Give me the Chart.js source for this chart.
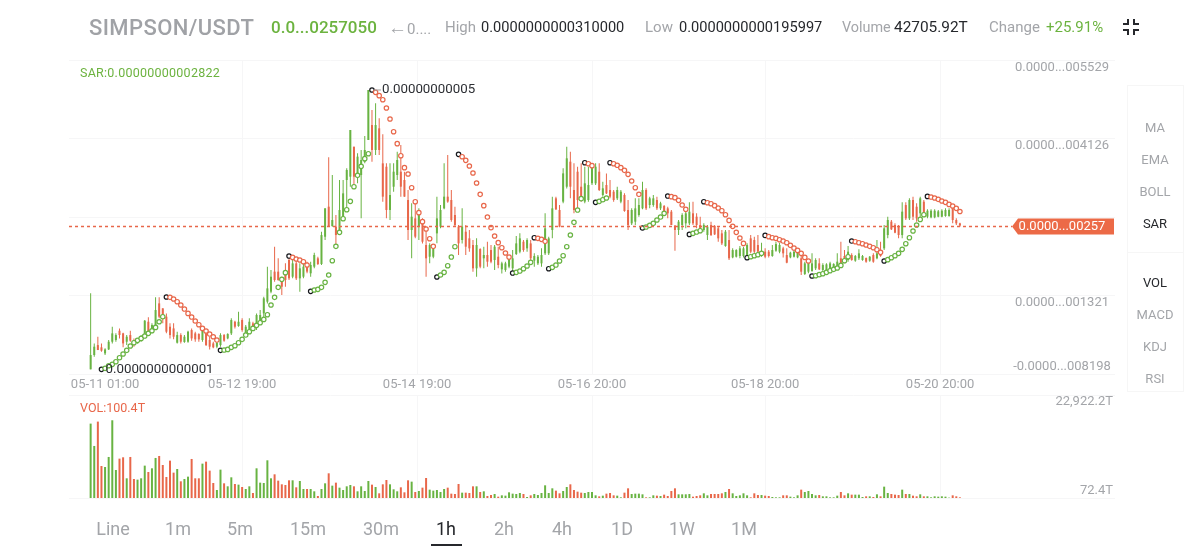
<!DOCTYPE html>
<html>
<head>
<meta charset="utf-8">
<title>SIMPSON/USDT</title>
<script src="https://cdn.jsdelivr.net/npm/chart.js@4"></script>
<style>
  html, body { margin: 0; padding: 0; background: #fff; }
  body { width: 1200px; height: 553px; position: relative; overflow: hidden; font-family: Roboto, sans-serif; }
  canvas { position: absolute; left: 0; }
  .t { position: absolute; white-space: nowrap; transform: translateY(-50%); color: #a3a5a9; font-size: 15px; }
  .dark { color: #26282c; }
  .green { color: #6cb33f; }
  .side { position: absolute; left: 1127px; width: 57px; border: 1px solid #f6f6f6; box-sizing: border-box; }
  .c { transform: translate(-50%, -50%); }
</style>
</head>
<body>
<canvas id="priceChart" width="1200" height="395" style="top:0"></canvas>
<canvas id="volChart" width="1200" height="112" style="top:390px"></canvas>

<div class="t" style="left:89px;top:27px;font-size:22px;letter-spacing:.4px;font-weight:500;color:#a0a2a6">SIMPSON/USDT</div>
<div class="t green" style="left:271px;top:27px;font-size:17px;font-weight:500">0.0...0257050</div>
<div class="t" style="left:388px;top:27px"><span style="font-size:19px">←</span>0....</div>
<div class="t" style="left:445px;top:27px">High</div>
<div class="t dark" style="left:481px;top:27px;font-size:14.6px">0.0000000000310000</div>
<div class="t" style="left:645px;top:27px">Low</div>
<div class="t dark" style="left:679px;top:27px;font-size:14.6px">0.0000000000195997</div>
<div class="t" style="left:842px;top:27px;font-size:14.4px">Volume</div>
<div class="t dark" style="left:894px;top:27px;font-size:15.4px">42705.92T</div>
<div class="t" style="left:989px;top:27px">Change</div>
<div class="t green" style="left:1046px;top:27px">+25.91%</div>
<svg style="position:absolute;left:1122px;top:18px" width="18" height="18" fill="none" stroke="#26282c" stroke-width="2">
  <path d="M6 1v5H1M12 1v5h5M6 17v-5H1M12 17v-5h5"/>
</svg>

<div class="t green" style="left:80px;top:72px;font-size:12.5px;letter-spacing:.25px">SAR:0.00000000002822</div>
<div class="t" style="left:80px;top:407px;font-size:12.5px;color:#e8674a">VOL:100.4T</div>

<div class="side" style="top:85px;height:168px"></div>
<div class="side" style="top:252px;height:140px"></div>
<div class="t c" style="left:1155px;top:127px;font-size:13px">MA</div>
<div class="t c" style="left:1155px;top:159px;font-size:13px">EMA</div>
<div class="t c" style="left:1155px;top:191px;font-size:13px">BOLL</div>
<div class="t c dark" style="left:1155px;top:223px;font-size:13px">SAR</div>
<div class="t c dark" style="left:1155px;top:282px;font-size:13px">VOL</div>
<div class="t c" style="left:1155px;top:314px;font-size:13px">MACD</div>
<div class="t c" style="left:1155px;top:346px;font-size:13px">KDJ</div>
<div class="t c" style="left:1155px;top:378px;font-size:13px">RSI</div>

<div class="t c" style="left:113px;top:528px;font-size:18px">Line</div>
<div class="t c" style="left:178px;top:528px;font-size:18px">1m</div>
<div class="t c" style="left:240px;top:528px;font-size:18px">5m</div>
<div class="t c" style="left:308px;top:528px;font-size:18px">15m</div>
<div class="t c" style="left:381px;top:528px;font-size:18px">30m</div>
<div class="t c dark" style="left:446px;top:528px;font-size:18px">1h</div>
<div class="t c" style="left:504px;top:528px;font-size:18px">2h</div>
<div class="t c" style="left:562px;top:528px;font-size:18px">4h</div>
<div class="t c" style="left:622px;top:528px;font-size:18px">1D</div>
<div class="t c" style="left:682px;top:528px;font-size:18px">1W</div>
<div class="t c" style="left:744px;top:528px;font-size:18px">1M</div>
<div style="position:absolute;left:431px;top:544px;width:31px;height:2px;background:#26282c"></div>

<script>
// prices are in units of 1e-14 USDT, volumes in T
const opens = [
  1,257,435,394,286,358,495,525,691,644,
  495,614,525,465,513,614,852,656,763,1180,
  1091,942,763,733,477,614,489,495,703,644,
  632,525,644,525,465,406,435,614,554,644,
  852,775,882,644,674,823,763,852,1001,1210,
  1389,1747,1747,1627,1717,1955,1657,1895,1627,1657,
  1895,1717,1836,1985,1883,2371,2908,2562,2550,2431,
  2729,3384,3444,3980,3474,3474,3712,4099,4367,3921,
  4308,3682,3622,2849,3265,3474,3533,3385,3027,2491,
  2699,2551,2670,2223,2014,2014,2431,2551,2878,3087,
  3027,2759,2551,2312,2461,2342,2223,1806,2151,1985,
  2044,2133,1955,2014,1788,1776,1836,1806,2062,2104,
  2282,2163,2252,1943,1895,1895,2074,2074,2491,3057,
  2849,2998,3265,3712,3206,3533,3265,2998,3027,3325,
  3325,3533,3117,3295,3206,3176,3057,2998,3117,2849,
  2610,2640,2759,2878,3206,2938,2938,3027,2878,2920,
  2878,2819,2568,2491,2580,2610,2610,2789,2729,2580,
  2491,2401,2580,2562,2521,2431,2205,2312,2002,2014,
  2026,2026,2026,2342,2312,2223,2026,2104,2104,2026,
  2121,2104,2163,2044,2002,2014,2002,1985,1705,1746,
  1758,1806,1895,1776,1776,1776,1794,1818,1985,2026,
  1955,2044,1943,1985,1955,1990,1943,2044,1985,2133,
  2163,2401,2640,2580,2550,2401,2937,2699,3027,2907,
  2789,2997,2729,2717,2717,2729,2729,2741,2741,2878,
  2670,2610
];
const closes = [
  257,406,346,334,358,495,644,614,614,465,
  584,513,453,537,596,870,644,793,1061,942,
  942,674,614,584,614,495,584,674,554,537,
  537,691,435,406,394,477,614,513,632,882,
  763,852,703,763,852,733,972,972,1270,1448,
  1657,1598,1598,1478,1598,1627,1895,1627,1806,1836,
  1747,1866,2044,1883,2401,2878,2550,2669,2401,2848,
  3146,3563,4278,3444,3802,3742,3921,4993,3921,4367,
  3921,3087,2849,3117,3533,3742,3265,3087,2491,2729,
  2372,2849,2282,1985,2223,2193,2699,2849,3087,2998,
  2670,2580,2252,2551,2193,2163,1806,2223,1836,2044,
  1925,1925,2193,1865,1895,1895,2014,1985,2252,2342,
  2133,2312,1985,2026,2014,2044,2521,2342,2878,2860,
  2551,3503,3772,3265,2849,3027,3027,3325,3295,3622,
  3622,3206,3236,3146,3087,3027,3206,3176,2830,2580,
  2849,2878,2938,3206,2878,3057,3057,2878,2968,2789,
  2789,2580,2491,2640,2759,2789,2819,2610,2580,2461,
  2580,2550,2401,2413,2342,2252,2461,1985,2133,2133,
  2163,2163,2223,2104,2104,2104,2104,2014,2026,2133,
  2240,2223,2074,1907,2086,2104,2104,1746,1895,1895,
  1895,1955,1788,1865,1877,1895,1883,1925,1865,1925,
  2104,1955,2026,2074,2026,1925,2014,1925,2074,2026,
  2521,2670,2503,2443,2401,2819,2699,3027,2729,2699,
  3057,2759,2836,2836,2836,2824,2836,2848,2848,2670,
  2610,2570
];
const highs = [
  1359,465,584,465,376,525,763,644,733,656,
  614,691,554,554,614,882,930,823,1288,1288,
  1091,1001,823,823,674,644,614,691,733,674,
  644,733,691,584,495,495,644,632,644,912,
  870,1031,912,793,912,852,1001,1061,1300,1836,
  1776,2193,1985,1657,1895,2014,1955,1955,1895,1925,
  1925,1925,2086,2014,2461,2878,3790,3474,2759,3384,
  3384,3593,4278,3980,3861,3921,4170,4993,4635,4755,
  4487,4200,3682,3682,3682,3891,4010,3533,3206,2968,
  3027,2878,2699,2551,2253,2223,3087,2938,3682,3831,
  3206,2908,2580,2878,2580,2491,2312,2342,2163,2193,
  2282,2223,2223,2193,1925,1925,2044,2133,2384,2431,
  2312,2342,2312,2074,2044,2163,2789,2372,3087,3087,
  2938,3593,3980,3891,3682,3622,3682,3622,3622,3682,
  3682,3682,3355,3503,3385,3206,3265,3206,3146,3027,
  2878,3057,3057,3355,3236,3087,3117,3087,2998,2938,
  2908,2849,2580,2670,2789,2819,2985,2997,2789,2729,
  2610,2580,2640,2580,2550,2491,2491,2491,2163,2145,
  2205,2193,2253,2402,2372,2402,2265,2163,2133,2223,
  2282,2265,2193,2163,2104,2133,2133,2026,1925,1925,
  2074,1985,1985,1895,1895,1925,1895,2074,2282,2133,
  2205,2074,2044,2145,2044,2002,2026,2074,2312,2282,
  2580,2729,2670,2610,2580,2985,2985,3057,3087,2967,
  3087,3027,2860,2860,2860,2848,2860,2878,2878,2896,
  2699,2622
];
const lows = [
  1,227,346,316,257,346,465,495,554,394,
  435,495,406,465,495,584,614,644,703,912,
  823,644,554,537,465,465,477,477,513,495,
  495,495,417,358,376,376,406,495,537,614,
  733,763,674,614,644,703,703,823,882,1180,
  1359,1568,1586,1329,1478,1598,1627,1598,1389,1627,
  1717,1657,1806,1866,1866,2312,2550,2550,2222,2401,
  2699,2848,3265,3295,3325,2699,3682,4099,3712,3831,
  3831,2998,2700,2670,3176,3385,3087,3087,2312,1985,
  2342,2312,2252,1657,1895,1985,2253,2521,2860,2980,
  2640,2551,2044,2252,2044,2104,1746,1657,1806,1806,
  1836,1895,1776,1806,1716,1746,1806,1746,2044,2074,
  2104,2104,1955,1836,1865,1836,2044,2044,2342,2849,
  2539,2968,3235,3057,2789,2878,2998,2968,2998,3295,
  3295,3188,3087,3134,3057,2998,3027,2968,2819,2491,
  2580,2580,2729,2860,2849,2878,2908,2849,2849,2759,
  2699,2580,2121,2401,2491,2521,2580,2580,2521,2431,
  2461,2312,2384,2401,2282,2223,2193,1955,1985,2002,
  1985,2002,2002,2074,2074,2074,2014,1985,2002,2014,
  2104,2074,2002,1895,1985,2002,1985,1687,1687,1717,
  1746,1776,1776,1746,1746,1746,1776,1806,1836,1895,
  1925,1943,1925,1955,1943,1907,1925,1907,1967,2014,
  2133,2342,2491,2431,2342,2342,2670,2670,2670,2640,
  2729,2729,2699,2699,2699,2717,2717,2729,2729,2610,
  2580,2550
];
const volumes = [
  16576,11618,17020,7178,6956,9176,17316,6290,8806,9102,
  4440,9176,4292,4144,4440,7252,5846,6660,8954,9398,
  7400,4736,8362,5698,6512,3774,4292,4810,8732,4440,
  4440,7696,8140,6142,3404,1850,6364,3330,2664,4662,
  3182,3034,2516,2072,2664,1184,6660,3478,3404,8436,
  4440,5328,3922,3108,2960,3996,3996,2442,3848,2072,
  2072,2072,1554,518,2072,3330,5550,2812,3478,2368,
  1850,2664,2960,2664,1554,2664,1628,3848,3034,2516,
  1110,3108,4070,3108,1998,1554,2442,1332,3996,3700,
  1406,1628,2368,4514,1924,1702,1850,1406,2072,2368,
  1036,962,3182,1258,1258,1184,2664,2664,1406,1554,
  518,740,962,370,666,592,1332,1036,962,1184,
  962,296,666,962,740,1184,2886,1184,2220,1702,
  1110,1628,2516,3108,1850,1480,1258,1184,1406,1406,
  666,444,592,1036,1184,666,592,222,1258,2220,
  962,1036,1036,888,222,222,666,592,518,814,
  518,1628,2220,888,888,888,962,370,518,666,
  1110,666,962,962,962,1110,1406,2072,1110,518,
  666,1110,666,222,1110,740,740,592,518,296,
  222,222,666,666,370,222,666,1924,1406,1628,
  962,666,740,444,444,222,222,592,1406,666,
  1110,814,814,814,296,444,444,296,888,444,
  2590,1184,962,814,740,1924,962,962,592,444,
  888,444,444,222,444,370,444,370,148,666,
  444,222
];
const sarValues = [
  null,null,null,1,19,66,90,138,209,275,
  341,418,477,519,554,596,644,691,751,852,
  942,1294,1288,1258,1210,1151,1079,1001,936,865,
  799,733,686,632,584,525,341,346,358,394,
  424,477,537,614,674,733,787,835,894,978,
  1151,1288,1466,1609,1729,2026,2002,1973,1955,1925,
  1866,1395,1419,1431,1466,1556,1687,1943,2199,2449,
  2693,2854,3003,3265,3468,3629,3766,3855,4993,4951,
  4892,4820,4671,4475,4248,4034,3819,3605,3492,3247,
  2997,2801,2640,2509,2336,2199,1651,1687,1734,1853,
  2008,2193,3843,3801,3736,3635,3510,3331,3128,2926,
  2723,2533,2384,2265,2175,2080,2008,1722,1734,1758,
  1800,1848,1913,2354,2342,2324,2288,1800,1824,1865,
  1937,2032,2193,2402,2628,2848,3051,3694,3676,3641,
  2985,3003,3033,3063,3694,3676,3647,3605,3557,3486,
  3367,3247,3128,2527,2544,2574,2610,2670,2723,2789,
  3098,3087,3069,3021,2938,2860,2413,2431,2455,2479,
  2997,2979,2961,2926,2884,2836,2765,2663,2556,2449,
  2348,2252,1996,2014,2032,2050,2074,2395,2372,2354,
  2342,2318,2294,2264,2217,2169,2127,2074,2002,1937,
  1669,1675,1693,1710,1734,1764,1788,1812,1859,1943,
  2014,2294,2282,2264,2246,2223,2199,2175,2139,2092,
  1937,1961,1996,2032,2074,2145,2246,2354,2473,2580,
  2681,2765,3092,3080,3063,3039,3009,2985,2949,2920,
  2878,2822
];
// candles where SAR flips, the first one starts an up trend
const sarFlips = [3,21,36,55,61,78,96,102,117,123,127,137,140,144,153,160,166,170,182,187,200,211,220,232];

const xTickValues = [4, 42, 90.5, 139, 187, 235.5];
const xTickLabels = ['05-11 01:00', '05-12 19:00', '05-14 19:00', '05-16 20:00', '05-18 20:00', '05-20 20:00'];
const yTickValues = [5529, 4126, 2723, 1321, -82];
const yTickLabels = ['0.0000...005529', '0.0000...004126', '', '0.0000...001321', '-0.0000...008198'];
const volTickValues = [72.4, 22922.2];
const volTickLabels = ['72.4T', '22,922.2T'];

const lastPrice = 2570;
const lastPriceLabel = '0.0000...00257';
const highLabel = '0.00000000005';
const lowLabel = '0.0000000000001';

const GREEN = '#68b342';
const RED = '#e8674a';
const GRID = '#f6f6f7';
const TICK_COLOR = '#a3a5a9';
const TICK_FONT = '13px Roboto';
const NOTE_FONT = '13.3px Roboto';

const index = opens.map((_, i) => i);
const candleColors = index.map(i => closes[i] >= opens[i] ? GREEN : RED);

// sar ring colour from the trend it belongs to, black where it flips
let trendUp = false;
const sarColors = index.map(i => {
  if (sarFlips.includes(i)) { trendUp = !trendUp; return '#15171c'; }
  return trendUp ? GREEN : RED;
});

function xAxis(height, showLabels) {
  return {
    type: 'linear', min: -6, max: 284, offset: false,
    border: { display: false },
    grid: { color: c => c.index === 0 ? 'transparent' : GRID, drawTicks: false, offset: false },
    afterBuildTicks: s => { s.ticks = xTickValues.map(v => ({ value: v })); },
    afterFit: s => { s.height = height; },
    ticks: {
      display: showLabels, autoSkip: false, maxRotation: 0, padding: 3,
      color: TICK_COLOR, font: { family: 'Roboto', size: 13 },
      callback: (v, i) => xTickLabels[i]
    }
  };
}

function yAxis(min, max, tickValues) {
  return {
    position: 'right', min, max,
    border: { display: false },
    grid: { color: GRID, drawTicks: false },
    afterBuildTicks: s => { s.ticks = tickValues.map(v => ({ value: v })); },
    afterFit: s => { s.width = 0; },
    ticks: { display: false }
  };
}

const priceOverlay = {
  id: 'priceOverlay',
  afterDraw(chart) {
    const { ctx, scales: { x, y }, chartArea } = chart;
    ctx.save();
    ctx.font = TICK_FONT;
    ctx.textBaseline = 'middle';

    // y labels sit just under their grid line, the last one above it
    ctx.fillStyle = TICK_COLOR;
    ctx.textAlign = 'center';
    yTickValues.forEach((v, i) => {
      const off = i === yTickValues.length - 1 ? -7 : 7.5;
      ctx.fillText(yTickLabels[i], 1062, y.getPixelForValue(v) + off);
    });

    // last price line and tag
    const py = Math.round(y.getPixelForValue(lastPrice)) + 0.5;
    ctx.strokeStyle = RED;
    ctx.lineWidth = 1.4;
    ctx.setLineDash([3, 3]);
    ctx.beginPath();
    ctx.moveTo(chartArea.left, py);
    ctx.lineTo(1012, py);
    ctx.stroke();
    ctx.setLineDash([]);
    ctx.fillStyle = '#ec6a47';
    ctx.beginPath();
    ctx.moveTo(1012, py);
    ctx.lineTo(1018, py - 8);
    ctx.lineTo(1114, py - 8);
    ctx.lineTo(1114, py + 8);
    ctx.lineTo(1018, py + 8);
    ctx.closePath();
    ctx.fill();
    ctx.fillStyle = '#fff';
    ctx.fillText(lastPriceLabel, 1062, py);

    // high and low notes
    const hx = x.getPixelForValue(78), hy = y.getPixelForValue(sarValues[78]);
    const lx = x.getPixelForValue(3), ly = y.getPixelForValue(sarValues[3]);
    ctx.font = NOTE_FONT;
    ctx.fillStyle = '#2c2e33';
    ctx.textAlign = 'left';
    ctx.strokeStyle = '#9a9a9a';
    ctx.lineWidth = 1;
    ctx.beginPath();
    ctx.moveTo(hx + 2, hy);
    ctx.lineTo(hx + 9, hy);
    ctx.stroke();
    ctx.fillText(highLabel, hx + 10, hy);
    ctx.fillText(lowLabel, lx + 4, ly);
    ctx.restore();
  }
};

const volLabels = {
  id: 'volLabels',
  afterDraw(chart) {
    const { ctx, scales: { y } } = chart;
    ctx.save();
    ctx.font = TICK_FONT;
    ctx.fillStyle = TICK_COLOR;
    ctx.textAlign = 'right';
    ctx.textBaseline = 'middle';
    volTickValues.forEach((v, i) => {
      ctx.fillText(volTickLabels[i], 1113, y.getPixelForValue(v) + (i === 0 ? -7 : 7));
    });
    ctx.restore();
  }
};

Chart.defaults.animation = false;
Chart.defaults.devicePixelRatio = 1;

new Chart(document.getElementById('priceChart'), {
  data: {
    datasets: [
      {
        type: 'line', label: 'SAR', order: 0, showLine: false,
        data: index.map(i => ({ x: i, y: sarValues[i] })),
        pointRadius: 2.2, pointBorderWidth: 1.2,
        pointBackgroundColor: '#fff',
        pointBorderColor: sarColors
      },
      {
        type: 'bar', label: 'Body', order: 1, grouped: false, barThickness: 2, inflateAmount: 0,
        data: index.map(i => ({ x: i, y: [opens[i], closes[i]] })),
        backgroundColor: candleColors
      },
      {
        type: 'bar', label: 'Wick', order: 2, grouped: false, barThickness: 1, inflateAmount: 0,
        data: index.map(i => ({ x: i, y: [lows[i], highs[i]] })),
        backgroundColor: candleColors
      }
    ]
  },
  options: {
    responsive: false,
    layout: { padding: { left: 69, right: 85, top: 60, bottom: 0 } },
    plugins: { legend: { display: false }, tooltip: { enabled: false } },
    scales: { x: xAxis(21, true), y: yAxis(-82, 5529, yTickValues) }
  },
  plugins: [priceOverlay]
});

new Chart(document.getElementById('volChart'), {
  data: {
    datasets: [{
      type: 'bar', label: 'VOL', barThickness: 2, inflateAmount: 0,
      data: index.map(i => ({ x: i, y: volumes[i] })),
      backgroundColor: candleColors
    }]
  },
  options: {
    responsive: false,
    layout: { padding: { left: 69, right: 85, top: 5, bottom: 0 } },
    plugins: { legend: { display: false }, tooltip: { enabled: false } },
    scales: { x: xAxis(4, false), y: yAxis(72.4, 22922.2, volTickValues) }
  },
  plugins: [volLabels]
});
</script>
</body>
</html>
